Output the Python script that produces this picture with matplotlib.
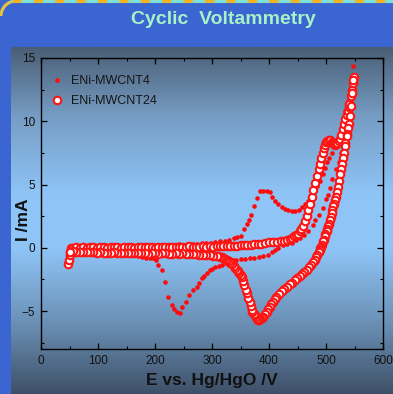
import matplotlib.pyplot as plt
import numpy as np
from matplotlib.colors import LinearSegmentedColormap
from matplotlib.lines import Line2D
from matplotlib.patches import Arc

# ENi-MWCNT4, forward then reverse scan (E in mV, I in mA)
e4_fwd = [50, 58, 66, 74, 82, 90, 98, 106, 114, 122, 130, 138, 146, 154, 162, 170, 178, 186, 194, 202,
          210, 218, 226, 234, 242, 250, 258, 266, 274, 282, 290, 298, 306, 314, 322, 330, 338,
          344, 350, 356, 361, 365, 369, 374, 379, 384, 390, 396, 401, 406, 411, 416, 422, 428, 434, 440, 446,
          452, 458, 464, 469, 474, 479, 484, 489, 494, 498, 502, 506, 510, 514, 518, 522, 526, 530, 534, 538,
          542, 545, 548]
i4_fwd = [-0.2, 0.0, 0.05, 0.1, 0.1, 0.12, 0.1, 0.15, 0.12, 0.15, 0.15, 0.18, 0.15, 0.2, 0.18, 0.2, 0.2, 0.22, 0.2, 0.22,
          0.25, 0.22, 0.25, 0.25, 0.28, 0.25, 0.3, 0.3, 0.32, 0.35, 0.35, 0.38, 0.42, 0.5, 0.55, 0.65, 0.8,
          0.85, 0.95, 1.45, 1.9, 2.2, 2.6, 3.3, 3.9, 4.45, 4.5, 4.5, 4.4, 4.0, 3.7, 3.45, 3.25, 3.05, 2.95, 2.9, 2.9,
          3.0, 3.2, 3.5, 3.7, 4.1, 4.5, 4.9, 5.3, 5.8, 6.3, 6.8, 7.1, 7.5, 8.0, 8.4, 8.8, 9.4, 10.0, 10.8, 11.6,
          12.5, 13.3, 14.4]
e4_rev = [546, 543, 540, 537, 534, 530, 527, 522, 517, 511, 507, 503, 500, 494, 488, 481, 477, 469, 462, 455,
          448, 440, 432, 424, 416, 410, 405, 398, 390, 382, 374, 366, 358, 350, 342, 336, 330, 324, 318, 312,
          306, 300, 296, 291, 286, 282, 277, 273, 267, 260, 254, 248, 243, 238, 233, 229, 223, 218, 212, 206,
          201, 197, 191, 185, 177, 170, 162, 154, 146, 138, 130, 122, 114, 106, 98, 90, 82, 74, 66, 58, 52]
i4_rev = [13.0, 11.5, 10.3, 9.3, 8.6, 8.0, 7.5, 6.8, 6.2, 5.4, 4.7, 4.2, 3.86, 3.15, 2.6, 2.2, 1.8, 1.3, 1.0, 0.8,
          0.6, 0.4, 0.3, 0.2, 0.0, -0.2, -0.3, -0.55, -0.65, -0.72, -0.78, -0.82, -0.86, -0.9, -0.93, -0.97, -1.05, -1.2, -1.35, -1.45,
          -1.55, -1.65, -1.72, -2.0, -2.2, -2.4, -2.75, -3.1, -3.3, -3.7, -4.3, -4.7, -5.15, -5.05, -4.8, -4.5, -3.9, -2.7, -1.75, -1.35,
          -1.0, -0.8, -0.8, -0.8, -0.75, -0.65, -0.55, -0.5, -0.45, -0.45, -0.42, -0.42, -0.4, -0.4, -0.38, -0.38, -0.35, -0.35, -0.35, -0.3, -0.3]

# ENi-MWCNT24
e24_fwd = [48, 49, 50, 51, 52,
           56, 62, 68, 74, 80, 86, 92, 98, 104, 110, 116, 122, 128, 134, 140, 146, 152, 158, 164, 170,
           176, 182, 188, 194, 200, 206, 212, 218, 224, 230, 236, 242, 248, 254, 260, 266, 272, 278, 284, 290,
           296, 302, 308, 314, 320, 326, 332, 338, 344, 350, 356, 362, 368, 374, 380, 386,
           393, 400, 407, 414, 421, 427, 431, 436, 440, 444, 448, 451, 454, 457, 460, 463, 466, 469, 472, 475,
           478, 481, 484, 487, 489, 492, 494, 496, 498, 500, 502, 505, 507, 510, 512, 514, 516, 518, 520, 523,
           525, 527, 530, 532, 534, 536, 538, 540, 541, 543, 545, 547, 549]
i24_fwd = [-1.27, -0.95, -0.6, -0.3, -0.05,
           0.0, 0.05, 0.0, 0.08, 0.02, 0.05, 0.1, 0.0, 0.05, 0.08, 0.02, 0.06, 0.1, 0.04, 0.0, 0.08, 0.05, 0.1, 0.02, 0.06,
           0.08, 0.04, 0.1, 0.05, 0.02, 0.08, 0.06, 0.1, 0.04, 0.08, 0.05, 0.1, 0.06, 0.08, 0.12, 0.05, 0.1, 0.08, 0.12, 0.1,
           0.14, 0.1, 0.12, 0.15, 0.12, 0.16, 0.14, 0.18, 0.16, 0.2, 0.2, 0.22, 0.25, 0.26, 0.3, 0.32,
           0.38, 0.42, 0.45, 0.48, 0.52, 0.55, 0.58, 0.68, 0.78, 0.9, 1.02, 1.12, 1.3, 1.5, 1.75, 2.1, 2.5, 2.95, 3.5, 4.0,
           4.6, 5.1, 5.7, 6.2, 6.6, 7.1, 7.5, 7.85, 8.15, 8.35, 8.45, 8.5, 8.5, 8.4, 8.3, 8.2, 8.15, 8.2, 8.3, 8.45,
           8.6, 8.9, 9.35, 9.8, 10.2, 10.5, 10.8, 11.1, 11.4, 12.0, 12.5, 13.0, 13.5]
e24_rev = [548, 546, 544, 542, 540, 539, 537, 536, 534, 533, 531, 530, 528, 527, 525, 523, 521, 519, 517, 516,
           514, 513, 511, 510, 508, 507, 505, 504, 502, 501, 499, 498, 496, 495, 493, 492, 490, 489, 487, 485,
           483, 481, 478, 474, 470, 466, 462, 458, 454, 449, 445, 440, 436, 431, 427, 422, 418, 413, 410, 407,
           404, 402, 399, 396, 393, 390, 387, 385, 383, 381, 379, 377, 375, 373, 371, 370, 368, 366, 364, 361,
           359, 357, 355, 352, 350, 348, 345, 343, 340, 338, 335, 332, 329, 326, 323, 320, 317, 314, 311, 308,
           302, 296, 290, 284, 278, 272,
           266, 260, 254, 248, 242, 236, 230, 224, 218, 212, 206, 200, 194, 188, 182, 176, 170, 164, 158, 152,
           146, 140, 134, 128, 122, 116, 110, 104, 98, 92, 86, 80, 74, 68, 62, 56, 50]
i24_rev = [13.3, 12.2, 11.2, 10.4, 9.8, 9.5, 9.0, 8.8, 8.3, 8.05, 7.5, 7.1, 6.6, 6.2, 5.8, 5.3, 4.8, 4.4, 4.0, 3.8,
           3.5, 3.3, 2.95, 2.75, 2.4, 2.2, 1.9, 1.7, 1.45, 1.3, 1.05, 0.9, 0.65, 0.5, 0.25, 0.1, -0.05, -0.16, -0.35, -0.55,
           -0.75, -0.95, -1.15, -1.35, -1.55, -1.75, -1.95, -2.1, -2.25, -2.4, -2.55, -2.75, -2.9, -3.07, -3.25, -3.45, -3.65, -3.86, -4.05, -4.25,
           -4.45, -4.66, -4.85, -5.05, -5.25, -5.45, -5.58, -5.65, -5.7, -5.7, -5.65, -5.5, -5.35, -5.2, -5.05, -4.9, -4.6, -4.3, -4.0, -3.6,
           -3.3, -2.95, -2.65, -2.3, -2.15, -2.0, -1.85, -1.75, -1.6, -1.45, -1.32, -1.2, -1.08, -0.98, -0.88, -0.8, -0.75, -0.7, -0.67, -0.64,
           -0.62, -0.6, -0.57, -0.56, -0.55, -0.52,
           -0.5, -0.48, -0.52, -0.45, -0.5, -0.42, -0.48, -0.5, -0.45, -0.4, -0.48, -0.42, -0.45, -0.5, -0.4, -0.45, -0.42, -0.38, -0.45, -0.4,
           -0.42, -0.38, -0.4, -0.35, -0.42, -0.38, -0.4, -0.35, -0.38, -0.32, -0.36, -0.3, -0.35, -0.32, -0.3, -0.28, -0.3]

labels = ["ENi-MWCNT4", "ENi-MWCNT24"]

plt.rcParams['font.family'] = ['Liberation Sans', 'DejaVu Sans']

fig = plt.figure(figsize=(3.93, 3.94), dpi=100)
fig.patch.set_facecolor('#3b66d2')

# slide decoration: dashed top border and rounded corner
fig.add_artist(Line2D([0.03, 1], [0.9965, 0.9965], transform=fig.transFigure, color='#7ee0d6', lw=2.2))
fig.add_artist(Line2D([0.03, 1], [0.9965, 0.9965], transform=fig.transFigure, color='#f2b422', lw=2.2, dashes=(3, 4)))
fig.add_artist(Arc((16 / 393, 1 - 16 / 394), 30 / 393, 30 / 394, theta1=90, theta2=180,
                   transform=fig.transFigure, color='#e8c43a', lw=2.2))

# gradient panel behind the chart
bg = fig.add_axes([11 / 393, 0, 382 / 393, 347 / 394])
panel = LinearSegmentedColormap.from_list('panel', [(0, '#3e5068'), (0.2, '#6a8fb4'), (0.42, '#8fc5f7'),
                                                    (0.58, '#8ec4f6'), (0.8, '#769dc4'), (1, '#4a5e76')])
bg.imshow(np.linspace(0, 1, 256).reshape(-1, 1), aspect='auto', cmap=panel, origin='lower', extent=[0, 1, 0, 1])
bg.axis('off')

fig.text(223 / 393, 1 - 20 / 394, "Cyclic  Voltammetry", color='#a8f2c8', fontsize=14,
         fontweight='bold', ha='center', va='center')

ax = fig.add_axes([41 / 393, 1 - 349 / 394, 342 / 393, 291 / 394])
ax.patch.set_alpha(0)

ax.plot(e4_fwd + e4_rev, i4_fwd + i4_rev, 'o', color='#ff0a0a', ms=3.3, mew=0, ls='none', label=labels[0])
ax.plot(e24_fwd + e24_rev, i24_fwd + i24_rev, 'o', mfc='white', mec='#ff1414', ms=5.4, mew=1.5, ls='none',
        label=labels[1])

ax.set_xlim(0, 600)
ax.set_ylim(-8, 15)
ax.set_xticks(np.arange(0, 601, 100))
ax.set_xticks(np.arange(0, 601, 50), minor=True)
ax.set_yticks([-5, 0, 5, 10, 15])
ax.set_yticks(np.arange(-7.5, 15.1, 2.5), minor=True)
ax.tick_params(which='both', direction='in', top=True, right=True, labelsize=8.5, labelcolor='#111111')
ax.tick_params(which='major', length=4, width=0.9, pad=4)
ax.tick_params(which='minor', length=2.5, width=0.8)
for s in ax.spines.values():
    s.set_linewidth(1.0)

ax.set_xlabel("E vs. Hg/HgO /V", fontsize=12.5, fontweight='bold', color='#111111')
ax.xaxis.set_label_coords(0.5, -0.082)
ax.set_ylabel("I /mA", fontsize=12.5, fontweight='bold', color='#111111')
ax.yaxis.set_label_coords(-0.03, 0.443)

leg = ax.legend(loc='upper left', bbox_to_anchor=(0.03, 0.94), frameon=False, fontsize=9,
                handlelength=0.9, handletextpad=0.7, labelspacing=0.6, borderaxespad=0, borderpad=0)
for t in leg.get_texts():
    t.set_color('#151515')

fig.savefig('out.png', dpi=100, facecolor=fig.get_facecolor())
